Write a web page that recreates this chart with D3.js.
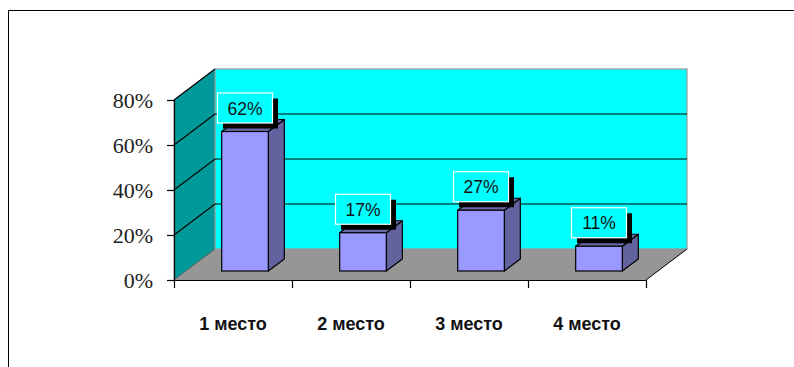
<!DOCTYPE html>
<html><head><meta charset="utf-8">
<script src="https://cdn.jsdelivr.net/npm/d3@7"></script>
<style>html,body{margin:0;padding:0;background:#fff;overflow:hidden}</style>
</head><body>
<svg id="c" width="794" height="367"></svg>
<script>
const categories = ["1 место", "2 место", "3 место", "4 место"];
const values = [62, 17, 27, 11];
const yTicks = [0, 20, 40, 60, 80];
const valueLabels = ["62%", "17%", "27%", "11%"];

const svg = d3.select("#c");
// frame
svg.append("path").attr("d", "M8.5,367 L8.5,10.5 L794,10.5").attr("fill", "none").attr("stroke", "#000").attr("stroke-width", 1);

const x0 = 174, x1 = 646, y0 = 280;
const depth = {dx: 41, dy: -31};
const barOff = {dx: 12, dy: -9};
const barDepth = {dx: 16, dy: -12};

const x = d3.scaleBand().domain(categories).range([x0, x1]).padding(0);
const y = d3.scaleLinear().domain([0, 80]).range([y0, y0 - 180]);
const h = v => y(0) - y(v);

const line = d3.line();
// left wall
svg.append("path")
  .attr("d", line([[x0, y(0)], [x0, y(80)], [x0 + depth.dx, y(80) + depth.dy], [x0 + depth.dx, y(0) + depth.dy]]) + "Z")
  .attr("fill", "#009999").attr("stroke", "#555").attr("stroke-width", 0.6);
// back wall
svg.append("rect")
  .attr("x", x0 + depth.dx).attr("y", y(80) + depth.dy)
  .attr("width", x1 - x0).attr("height", h(80))
  .attr("fill", "#00FFFF").attr("stroke", "#999").attr("stroke-width", 1.2);
// floor
svg.append("path")
  .attr("d", line([[x0, y(0)], [x1, y(0)], [x1 + depth.dx, y(0) + depth.dy], [x0 + depth.dx, y(0) + depth.dy]]) + "Z")
  .attr("fill", "#969696").attr("stroke", "none");
svg.append("line").attr("x1", x1).attr("y1", y(0)).attr("x2", x1 + depth.dx).attr("y2", y(0) + depth.dy)
  .attr("stroke", "#000").attr("stroke-width", 1);
svg.append("line").attr("x1", x0).attr("y1", y(0)).attr("x2", x0 + depth.dx).attr("y2", y(0) + depth.dy)
  .attr("stroke", "#444").attr("stroke-width", 0.6);

// gridlines
yTicks.filter(t => t > 0).forEach(t => {
  svg.append("path")
    .attr("d", line([[x0, y(t)], [x0 + depth.dx, y(t) + depth.dy]]) + (t < 80 ? "L" + (x1 + depth.dx) + "," + (y(t) + depth.dy) : ""))
    .attr("fill", "none").attr("stroke", "#000").attr("stroke-width", 1.2);
});

// y axis
const yAxis = d3.axisLeft(y).tickValues(yTicks).tickSize(7).tickPadding(14).tickFormat(d => d + "%");
const ga = svg.append("g").attr("transform", `translate(${x0},0)`).call(yAxis);
ga.select(".domain").attr("stroke", "#000").attr("stroke-width", 1.2);
ga.selectAll(".tick line").attr("stroke", "#000").attr("stroke-width", 1.2);
ga.selectAll(".tick text").attr("font-family", "Liberation Serif, Times New Roman, serif").attr("font-size", 22).attr("fill", "#222");

// x axis
const xAxis = d3.axisBottom(d3.scaleLinear().domain([0, 4]).range([x0, x1])).tickValues([0, 1, 2, 3, 4]).tickSize(8).tickFormat("");
const gx = svg.append("g").attr("transform", `translate(0,${y0})`).call(xAxis);
gx.select(".domain").attr("stroke", "#000").attr("stroke-width", 1.2).attr("d", `M${x0},0.5H${x1}`);
gx.selectAll(".tick line").attr("stroke", "#000").attr("stroke-width", 1.2);

svg.append("g").selectAll("text").data(categories).join("text")
  .attr("x", d => x(d) + x.bandwidth() / 2)
  .attr("y", 330)
  .attr("text-anchor", "middle")
  .attr("font-family", "Liberation Sans, Arial, sans-serif")
  .attr("font-weight", "bold")
  .attr("font-size", 18)
  .attr("fill", "#111")
  .text(d => d);

// bars
const bw = x.bandwidth() * 0.395;
const bars = svg.append("g");
categories.forEach((c, i) => {
  const v = values[i];
  const left = x(c) + x.bandwidth() / 2 - bw / 2 + barOff.dx;
  const right = left + bw;
  const bottom = y(0) + barOff.dy;
  const top = bottom - h(v);
  const g = bars.append("g");
  // side
  g.append("path").attr("d", line([[right, bottom], [right, top], [right + barDepth.dx, top + barDepth.dy], [right + barDepth.dx, bottom + barDepth.dy]]) + "Z")
    .attr("fill", "#62629E").attr("stroke", "#000").attr("stroke-width", 1.2).attr("stroke-linejoin", "round");
  // top
  g.append("path").attr("d", line([[left, top], [right, top], [right + barDepth.dx, top + barDepth.dy], [left + barDepth.dx, top + barDepth.dy]]) + "Z")
    .attr("fill", "#6868A6").attr("stroke", "#000").attr("stroke-width", 1.2).attr("stroke-linejoin", "round");
  // front
  g.append("rect").attr("x", left).attr("y", top).attr("width", bw).attr("height", h(v))
    .attr("fill", "#9999FF").attr("stroke", "#000").attr("stroke-width", 1.2);

  // label
  const cx = left + bw / 2;
  const bw2 = 55, bh2 = 30;
  const by = top - 8.5 - bh2;
  g.append("rect").attr("x", cx - bw2 / 2 + 5.5).attr("y", by + 5.5).attr("width", bw2).attr("height", bh2).attr("fill", "#000");
  g.append("rect").attr("x", cx - bw2 / 2).attr("y", by).attr("width", bw2).attr("height", bh2)
    .attr("fill", "#00FFFF").attr("stroke", "#fff").attr("stroke-width", 1.2);
  g.append("text").attr("x", cx).attr("y", by + bh2 / 2 + 6.5)
    .attr("text-anchor", "middle").attr("font-family", "Liberation Sans, Arial, sans-serif")
    .attr("font-size", 17.5).attr("fill", "#111").text(valueLabels[i]);
});
</script>
</body></html>
